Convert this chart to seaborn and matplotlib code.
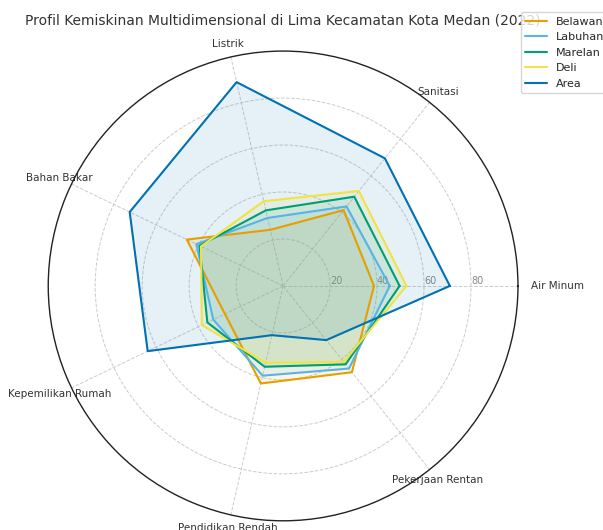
import numpy as np
import matplotlib
matplotlib.use("Agg")
import matplotlib.pyplot as plt
import seaborn as sns

categories = ["Air Minum", "Sanitasi", "Listrik", "Bahan Bakar",
              "Kepemilikan Rumah", "Pendidikan Rendah", "Pekerjaan Rentan"]
belawan = [38.7, 41.3, 24.5, 45.5, 27.5, 42.6, 47.0]
labuhan = [45.4, 43.3, 29.7, 41.0, 33.0, 39.2, 45.0]
marelan = [49.6, 48.6, 33.0, 39.5, 35.8, 35.3, 42.7]
deli = [52.5, 51.7, 37.0, 38.8, 38.4, 33.5, 41.4]
area = [71.0, 69.5, 89.0, 72.5, 64.0, 21.5, 29.5]

series = {"Belawan": belawan, "Labuhan": labuhan, "Marelan": marelan,
          "Deli": deli, "Area": area}
colors = {"Belawan": "#E69F00", "Labuhan": "#56B4E9", "Marelan": "#009E73",
          "Deli": "#F0E442", "Area": "#0072B2"}

sns.set_style("white")
plt.rcParams["font.family"] = ["DejaVu Sans"]

angles = np.linspace(0, 2 * np.pi, len(categories), endpoint=False)
angles_closed = np.append(angles, angles[0])

fig = plt.figure(figsize=(6.03, 5.3), dpi=100)
ax = fig.add_axes([0.08, 0.017, 0.779, 0.887], projection="polar")

for name, vals in series.items():
    v = np.append(vals, vals[0])
    sns.lineplot(x=angles_closed, y=v, ax=ax, sort=False, estimator=None,
                 color=colors[name], linewidth=1.5, label=name)
    ax.fill(angles_closed, v, color=colors[name], alpha=0.1)

ax.set_ylim(0, 100)
ax.set_yticks([20, 40, 60, 80])
ax.set_yticklabels(["20", "40", "60", "80"], color="#888888", fontsize=7)
ax.set_rlabel_position(0)
ax.set_xticks(angles)
ax.set_xticklabels(categories, fontsize=7.5, color="#333333")
ax.tick_params(axis="x", pad=-1)
ax.get_xticklabels()[0].set_horizontalalignment("left")
ax.grid(True, linestyle="--", color="#cccccc", linewidth=0.7)
ax.spines["polar"].set_color("#222222")
ax.spines["polar"].set_linewidth(1.0)
ax.set_xlabel("")
ax.set_ylabel("")

ax.set_title("Profil Kemiskinan Multidimensional di Lima Kecamatan Kota Medan (2022)",
             fontsize=10, color="#333333", pad=19)
ax.legend(loc="upper left", bbox_to_anchor=(1.006, 1.083), borderaxespad=0,
          fontsize=8, frameon=True)

fig.savefig("out.png", dpi=100)
